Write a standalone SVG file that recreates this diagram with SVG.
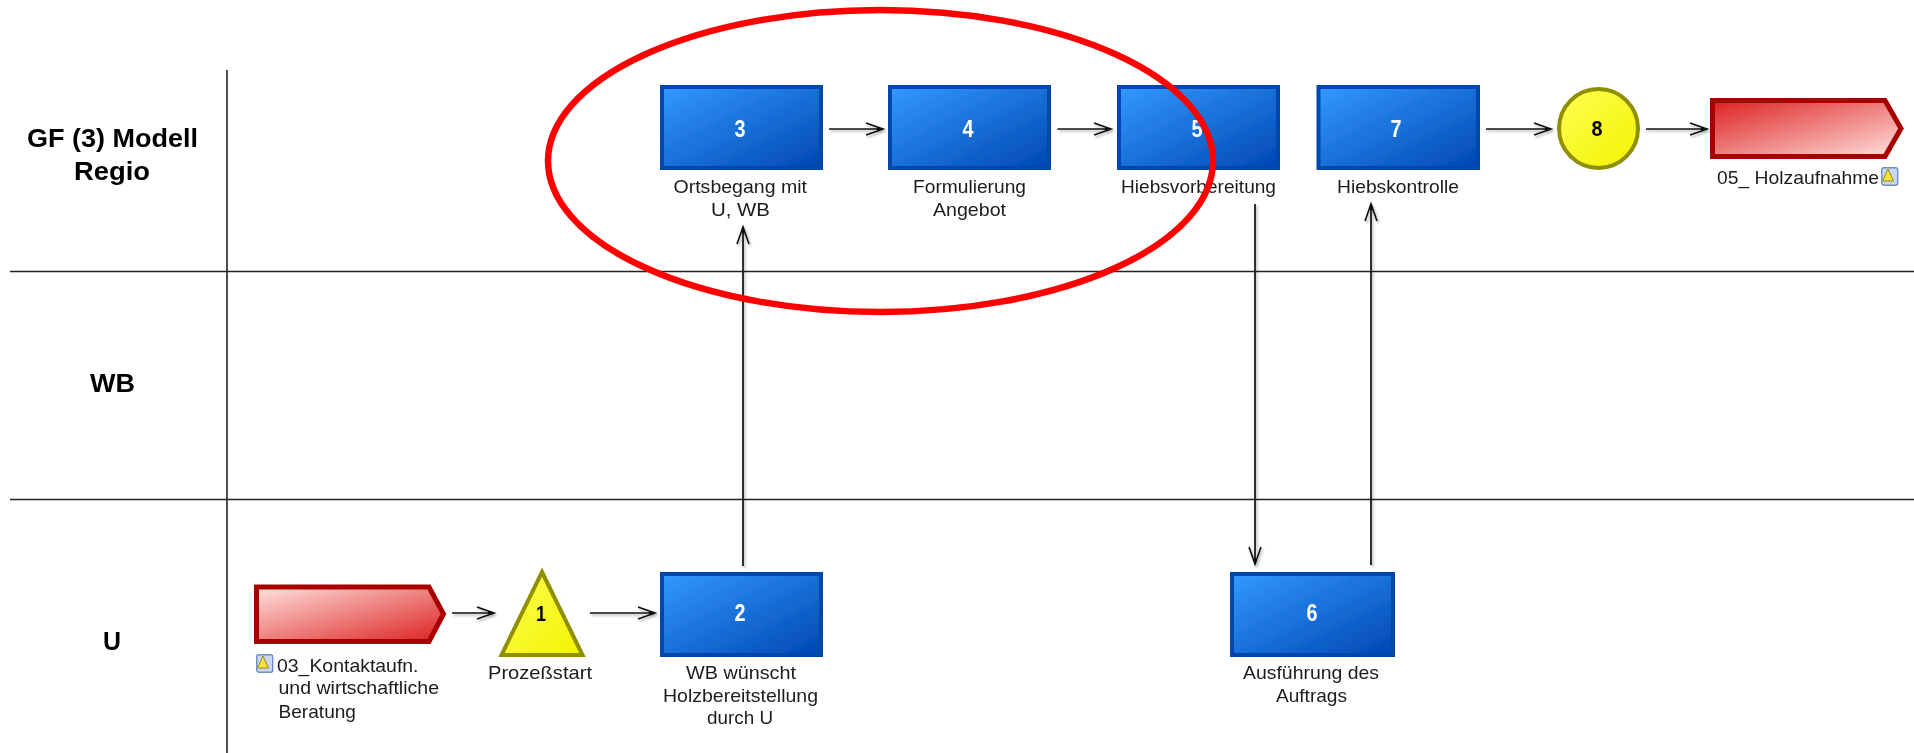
<svg xmlns="http://www.w3.org/2000/svg" width="1914" height="753" viewBox="0 0 1914 753">
<style>
text{font-family:"Liberation Sans",Arial,sans-serif}
.lbl{font-size:19px;fill:#1c1c1c}
.hdr{font-size:25px;font-weight:bold;fill:#000}
.num{font-size:23px;font-weight:bold;fill:#fff;text-anchor:middle}
.numk{font-size:22px;font-weight:bold;fill:#000;text-anchor:middle}
.task{fill:url(#blue);stroke:#0047ab;stroke-width:4}
.ext{stroke:#a80000;stroke-width:5;stroke-linejoin:miter}
.ev{fill:url(#yel);stroke:#8f8f00;stroke-width:4}
.lane{stroke:#222;stroke-width:1.6;fill:none}
.con{stroke:#111;stroke-width:1.7;fill:none;marker-end:url(#arr)}
</style>
<defs>
<linearGradient id="blue" x1="0" y1="0" x2="1" y2="1"><stop offset="0" stop-color="#3399ff"/><stop offset="1" stop-color="#0047b3"/></linearGradient>
<linearGradient id="redL" x1="0" y1="0" x2="1" y2="1"><stop offset="0" stop-color="#ffe2de"/><stop offset="1" stop-color="#dc2020"/></linearGradient>
<linearGradient id="redR" x1="0" y1="0" x2="1" y2="1"><stop offset="0" stop-color="#dc2020"/><stop offset="1" stop-color="#ffe2de"/></linearGradient>
<linearGradient id="yel" x1="0" y1="0" x2="1" y2="1"><stop offset="0" stop-color="#ffff55"/><stop offset="1" stop-color="#f2f200"/></linearGradient>
<marker id="arr" markerUnits="userSpaceOnUse" markerWidth="24" markerHeight="18" refX="21" refY="9" orient="auto" overflow="visible">
<path d="M4,3 L21,9 L4,15" fill="none" stroke="#111" stroke-width="1.6"/><path d="M15,7.500 L21,9 L15,10.500Z" fill="#111"/>
</marker>
<filter id="shadow" filterUnits="userSpaceOnUse" x="0" y="0" width="1914" height="753"><feDropShadow dx="1.5" dy="2" stdDeviation="1.2" flood-color="#000" flood-opacity=".3"/></filter>
<filter id="soft" filterUnits="userSpaceOnUse" x="0" y="0" width="1914" height="753"><feGaussianBlur stdDeviation="0.4"/></filter>
<g id="note"><rect x="0.7" y="0.7" width="16" height="17.5" rx="2" fill="#c9d8ee" stroke="#6f8fc0" stroke-width="1.4"/><path d="M1.5,14 L7,2 L12.5,14Z" fill="#f7e23a" stroke="#9a8a10" stroke-width="1"/></g>
</defs>
<rect width="1914" height="753" fill="#fff"/>
<g filter="url(#soft)">
<g id="lanes">
<path class="lane" d="M227,70V753M10,271.500H1914M10,499.500H1914"/>
<text class="hdr" x="27" y="147" textLength="171" lengthAdjust="spacingAndGlyphs">GF (3) Modell</text>
<text class="hdr" x="74" y="180" textLength="76" lengthAdjust="spacingAndGlyphs">Regio</text>
<text class="hdr" x="90" y="392" textLength="45" lengthAdjust="spacingAndGlyphs">WB</text>
<text class="hdr" x="103" y="650" textLength="18" lengthAdjust="spacingAndGlyphs">U</text>
</g>
<g id="connectors" filter="url(#shadow)">
<path class="con" d="M452,613H494"/>
<path class="con" d="M590,613H655"/>
<path class="con" d="M743,566V227"/>
<path class="con" d="M829,129H883"/>
<path class="con" d="M1057.500,129H1111"/>
<path class="con" d="M1255,204V564"/>
<path class="con" d="M1371,565V204"/>
<path class="con" d="M1486,129H1551"/>
<path class="con" d="M1646,129H1707"/>
</g>
<g id="start-ref">
<path class="ext" fill="url(#redL)" d="M256.500,587H429L443.500,614L429,641.500H256.500Z"/>
<use href="#note" x="256" y="654"/>
<text class="lbl" x="277" y="672" textLength="141.500" lengthAdjust="spacingAndGlyphs">03_Kontaktaufn.</text>
<text class="lbl" x="278.500" y="694" textLength="160.500" lengthAdjust="spacingAndGlyphs">und wirtschaftliche</text>
<text class="lbl" x="278.500" y="718" textLength="77.500" lengthAdjust="spacingAndGlyphs">Beratung</text>
</g>
<g id="node1">
<path class="ev" d="M542,572L582.500,655H501.500Z"/>
<text class="numk" x="541" y="621" textLength="10" lengthAdjust="spacingAndGlyphs">1</text>
<text class="lbl" x="488" y="679" textLength="104" lengthAdjust="spacingAndGlyphs">Prozeßstart</text>
</g>
<g id="node2">
<rect class="task" x="662" y="574" width="159" height="81"/>
<text class="num" x="740" y="621" textLength="11" lengthAdjust="spacingAndGlyphs">2</text>
<text class="lbl" x="686" y="679" textLength="110" lengthAdjust="spacingAndGlyphs">WB wünscht</text>
<text class="lbl" x="663" y="702" textLength="155" lengthAdjust="spacingAndGlyphs">Holzbereitstellung</text>
<text class="lbl" x="707" y="724" textLength="66" lengthAdjust="spacingAndGlyphs">durch U</text>
</g>
<g id="node3">
<rect class="task" x="662" y="87" width="159" height="81"/>
<text class="num" x="740" y="137" textLength="11" lengthAdjust="spacingAndGlyphs">3</text>
<text class="lbl" x="673.500" y="193" textLength="133.500" lengthAdjust="spacingAndGlyphs">Ortsbegang mit</text>
<text class="lbl" x="711" y="216" textLength="59" lengthAdjust="spacingAndGlyphs">U, WB</text>
</g>
<g id="node4">
<rect class="task" x="890" y="87" width="159" height="81"/>
<text class="num" x="968" y="137" textLength="11" lengthAdjust="spacingAndGlyphs">4</text>
<text class="lbl" x="913" y="193" textLength="113" lengthAdjust="spacingAndGlyphs">Formulierung</text>
<text class="lbl" x="933" y="216" textLength="73" lengthAdjust="spacingAndGlyphs">Angebot</text>
</g>
<g id="node5">
<rect class="task" x="1119" y="87" width="159" height="81"/>
<text class="num" x="1197" y="137" textLength="11" lengthAdjust="spacingAndGlyphs">5</text>
<text class="lbl" x="1121" y="193" textLength="155" lengthAdjust="spacingAndGlyphs">Hiebsvorbereitung</text>
</g>
<g id="node6">
<rect class="task" x="1232" y="574" width="161" height="81"/>
<text class="num" x="1312" y="621" textLength="11" lengthAdjust="spacingAndGlyphs">6</text>
<text class="lbl" x="1243" y="679" textLength="136" lengthAdjust="spacingAndGlyphs">Ausführung des</text>
<text class="lbl" x="1276" y="702" textLength="71" lengthAdjust="spacingAndGlyphs">Auftrags</text>
</g>
<g id="node7">
<rect class="task" x="1318.500" y="87" width="159.500" height="81"/>
<text class="num" x="1396" y="137" textLength="11" lengthAdjust="spacingAndGlyphs">7</text>
<text class="lbl" x="1337" y="193" textLength="122" lengthAdjust="spacingAndGlyphs">Hiebskontrolle</text>
</g>
<g id="node8">
<ellipse class="ev" cx="1598.500" cy="128.500" rx="39.500" ry="39.500"/>
<text class="numk" x="1597" y="136" textLength="11" lengthAdjust="spacingAndGlyphs">8</text>
</g>
<g id="end-ref">
<path class="ext" fill="url(#redR)" d="M1712.500,100.500H1885L1901,128.500L1885,156.500H1712.500Z"/>
<text class="lbl" x="1717" y="184" textLength="162" lengthAdjust="spacingAndGlyphs">05_ Holzaufnahme</text>
<use href="#note" x="1881" y="167"/>
</g>
<g id="highlight">
<ellipse cx="880.500" cy="161" rx="332.500" ry="151" fill="none" stroke="#f00" stroke-width="6.500"/>
</g>
</g>
</svg>
